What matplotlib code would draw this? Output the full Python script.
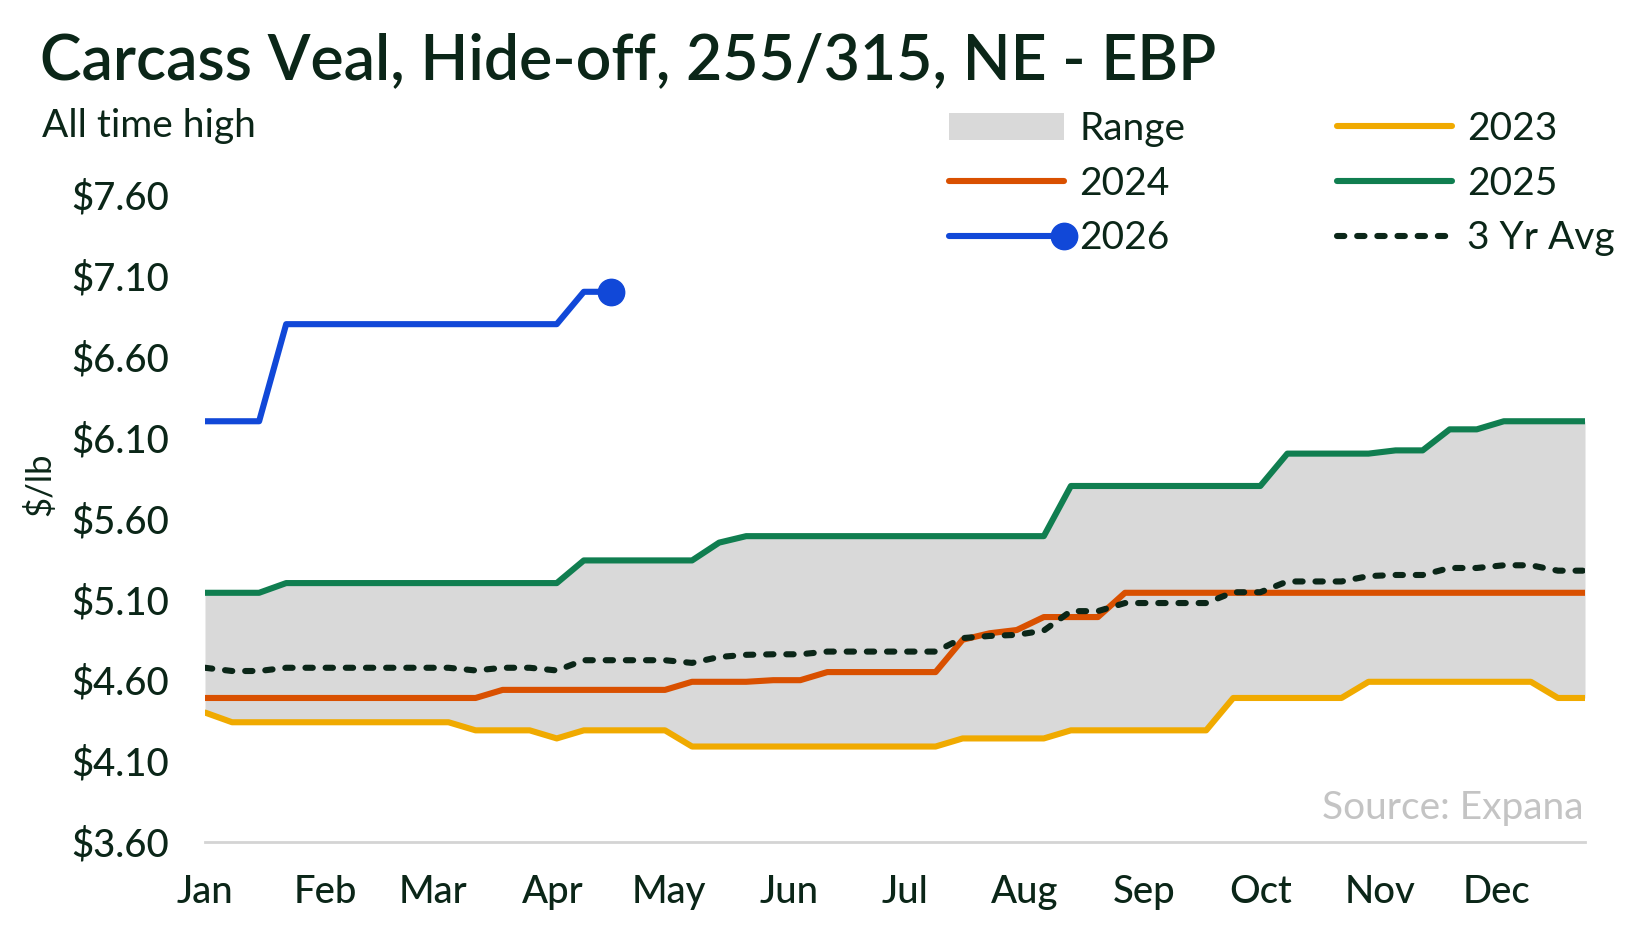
import numpy as np
import pandas as pd
import matplotlib
matplotlib.use("Agg")
import matplotlib.pyplot as plt
import matplotlib.dates as mdates
from matplotlib.legend_handler import HandlerLine2D
from matplotlib.ticker import FuncFormatter

plt.rcParams['font.family'] = ['Lato', 'DejaVu Sans']

# weekly points, plotted on a common calendar year
weeks = pd.date_range("2026-01-01", periods=52, freq="7D")

y2023 = [4.40, 4.34, 4.34, 4.34, 4.34, 4.34, 4.34, 4.34, 4.34, 4.34,
         4.29, 4.29, 4.29, 4.24, 4.29, 4.29, 4.29, 4.29, 4.19, 4.19,
         4.19, 4.19, 4.19, 4.19, 4.19, 4.19, 4.19, 4.19, 4.24, 4.24,
         4.24, 4.24, 4.29, 4.29, 4.29, 4.29, 4.29, 4.29, 4.49, 4.49,
         4.49, 4.49, 4.49, 4.59, 4.59, 4.59, 4.59, 4.59, 4.59, 4.59,
         4.49, 4.49]
y2024 = [4.49, 4.49, 4.49, 4.49, 4.49, 4.49, 4.49, 4.49, 4.49, 4.49,
         4.49, 4.54, 4.54, 4.54, 4.54, 4.54, 4.54, 4.54, 4.59, 4.59,
         4.59, 4.60, 4.60, 4.65, 4.65, 4.65, 4.65, 4.65, 4.85, 4.89,
         4.91, 4.99, 4.99, 4.99, 5.14, 5.14, 5.14, 5.14, 5.14, 5.14,
         5.14, 5.14, 5.14, 5.14, 5.14, 5.14, 5.14, 5.14, 5.14, 5.14,
         5.14, 5.14]
y2025 = [5.14, 5.14, 5.14, 5.20, 5.20, 5.20, 5.20, 5.20, 5.20, 5.20,
         5.20, 5.20, 5.20, 5.20, 5.34, 5.34, 5.34, 5.34, 5.34, 5.45,
         5.49, 5.49, 5.49, 5.49, 5.49, 5.49, 5.49, 5.49, 5.49, 5.49,
         5.49, 5.49, 5.80, 5.80, 5.80, 5.80, 5.80, 5.80, 5.80, 5.80,
         6.00, 6.00, 6.00, 6.00, 6.02, 6.02, 6.15, 6.15, 6.20, 6.20,
         6.20, 6.20]
y2026 = [6.20, 6.20, 6.20, 6.80, 6.80, 6.80, 6.80, 6.80, 6.80, 6.80,
         6.80, 6.80, 6.80, 6.80, 7.00, 7.00]

yticks = [3.60, 4.10, 4.60, 5.10, 5.60, 6.10, 6.60, 7.10, 7.60]

past = np.array([y2023, y2024, y2025])
range_lo = past.min(axis=0)
range_hi = past.max(axis=0)
avg3 = past.mean(axis=0)

TXT = '#0b2618'
C23, C24, C25, C26 = '#f0aa00', '#d95000', '#107e50', '#1148d8'
LW = 4.4

fig = plt.figure(figsize=(16.5, 9.42), dpi=100)
ax = fig.add_axes([205 / 1650, 100 / 942, 1380 / 1650, 647.3 / 942])

rng = ax.fill_between(weeks, range_lo, range_hi, color='#d9d9d9', lw=0, label='Range')
l23, = ax.plot(weeks, y2023, color=C23, lw=LW, solid_capstyle='round', label='2023')
l24, = ax.plot(weeks, y2024, color=C24, lw=LW, solid_capstyle='round', label='2024')
l25, = ax.plot(weeks, y2025, color=C25, lw=LW, solid_capstyle='round', label='2025')
lav, = ax.plot(weeks, avg3, color=TXT, lw=LW, dashes=(1.2, 2.1), dash_capstyle='round',
               label='3 Yr Avg')
l26, = ax.plot(weeks[:len(y2026)], y2026, color=C26, lw=LW, solid_capstyle='round',
               marker='o', ms=19, markevery=[len(y2026) - 1], label='2026')

ax.set_xlim(weeks[0], weeks[-1])
ax.set_ylim(3.6, 7.6)
ax.set_yticks(yticks)
ax.yaxis.set_major_formatter(FuncFormatter(lambda v, p: f'${v:.2f}'))
ax.xaxis.set_major_locator(mdates.MonthLocator())
ax.xaxis.set_major_formatter(mdates.DateFormatter('%b'))
ax.tick_params(axis='both', length=0, labelsize=27.5, labelcolor=TXT)
ax.tick_params(axis='y', pad=26)
ax.tick_params(axis='x', pad=24)
for s in ['top', 'right', 'left']:
    ax.spines[s].set_visible(False)
ax.spines['bottom'].set_color('#d4d4d4')
ax.spines['bottom'].set_linewidth(2)
for lab in ax.get_xticklabels() + ax.get_yticklabels():
    lab.set_fontweight('medium')


class DotAtEnd(HandlerLine2D):
    def create_artists(self, legend, orig_handle, xdescent, ydescent, width, height,
                       fontsize, trans):
        arts = super().create_artists(legend, orig_handle, xdescent, ydescent, width,
                                      height, fontsize, trans)
        for a in arts:
            a.set_markevery([2])
        return arts


leg = fig.legend([rng, l24, l26, l23, l25, lav],
                 ['Range', '2024', '2026', '2023', '2025', '3 Yr Avg'],
                 ncol=2, loc='upper left', bbox_to_anchor=(949 / 1650, 1 - 111 / 942),
                 frameon=False, fontsize=28, borderpad=0, borderaxespad=0,
                 handlelength=2.95, handletextpad=0.4, columnspacing=3.9,
                 labelspacing=0.48, handler_map={l26: DotAtEnd()})
for t in leg.get_texts():
    t.set_color(TXT)

fig.text(40 / 1650, 1 - 79 / 942, 'Carcass Veal, Hide-off, 255/315, NE - EBP',
         fontsize=45, fontweight='semibold', color=TXT, va='baseline')
fig.text(42 / 1650, 1 - 137 / 942, 'All time high', fontsize=28, color=TXT, va='baseline')
fig.text(40 / 1650, 1 - 484 / 942, '$/lb', fontsize=25, color=TXT, rotation=90,
         ha='center', va='center')
fig.text(1584 / 1650, 1 - 819 / 942, 'Source: Expana', fontsize=28, color='#c4c4c4',
         ha='right', va='baseline')

fig.savefig('out.png', dpi=100)
